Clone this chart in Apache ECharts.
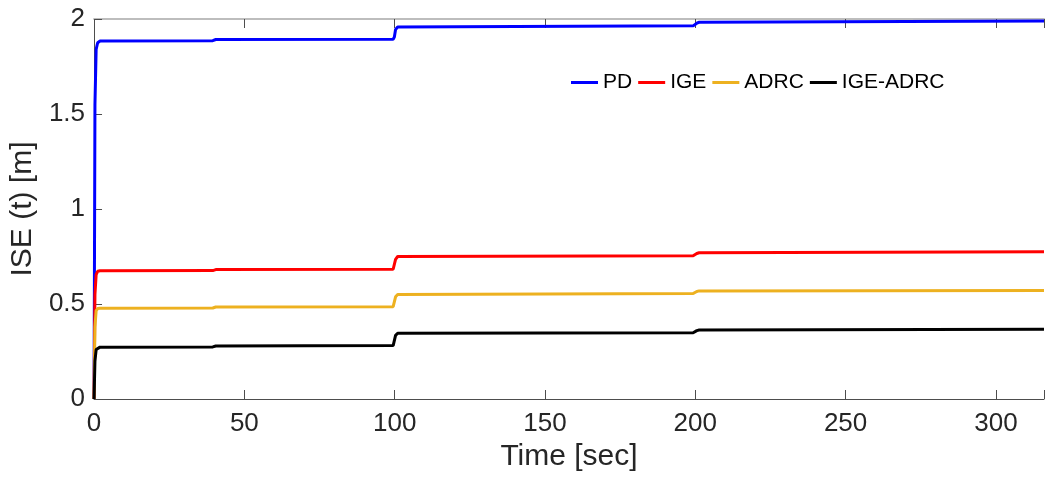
<!DOCTYPE html>
<html>
<head>
<meta charset="utf-8">
<script src="https://cdn.jsdelivr.net/npm/echarts@6/dist/echarts.min.js"></script>
<style>
  html, body { margin: 0; padding: 0; background: #fff; }
  #chart { width: 1047px; height: 480px; }
</style>
</head>
<body>
<div id="chart"></div>
<script>
// Sample times [sec] shared by every curve
const time = [0, 0.3, 0.7, 1.2, 2, 39.5, 40.5, 99.5, 99.9, 100.3, 101.0, 199.3, 199.8, 200.5, 201.3, 316];

// Integral of squared error for each controller [m]
const pd      = [0, 1.55, 1.84, 1.875, 1.884, 1.886, 1.892, 1.894, 1.905, 1.945, 1.958, 1.964, 1.966, 1.978, 1.983, 1.990];
const ige     = [0, 0.55, 0.655, 0.672, 0.675, 0.676, 0.681, 0.683, 0.690, 0.735, 0.750, 0.754, 0.756, 0.766, 0.770, 0.775];
const adrc    = [0, 0.38, 0.465, 0.476, 0.478, 0.479, 0.484, 0.486, 0.495, 0.538, 0.550, 0.555, 0.558, 0.566, 0.569, 0.571];
const igeAdrc = [0, 0.20, 0.260, 0.270, 0.273, 0.274, 0.279, 0.281, 0.290, 0.335, 0.346, 0.349, 0.351, 0.360, 0.363, 0.367];

const seriesNames = ['PD', 'IGE', 'ADRC', 'IGE-ADRC'];
const seriesData = [pd, ige, adrc, igeAdrc];
const colors = ['#0000ff', '#ff0000', '#edb120', '#000000'];

const xTicks = [0, 50, 100, 150, 200, 250, 300];
const yTicks = [0, 0.5, 1, 1.5, 2];

const font = 'Liberation Sans, Arial, Helvetica, sans-serif';
const textColor = '#262626';

const chart = echarts.init(document.getElementById('chart'), null, { renderer: 'canvas' });

chart.setOption({
  animation: false,
  backgroundColor: '#ffffff',
  color: colors,
  grid: { left: 92, top: 19, right: 0, bottom: 81, containLabel: false },
  legend: {
    left: 566,
    top: 67,
    itemWidth: 27,
    itemHeight: 3,
    itemGap: 6,
    icon: 'rect',
    textStyle: { fontFamily: font, fontSize: 21, color: '#000' },
    data: seriesNames
  },
  xAxis: [
    {
      type: 'value',
      position: 'bottom',
      min: 0,
      max: 316,
      interval: 50,
      name: 'Time [sec]',
      nameLocation: 'middle',
      nameGap: 41,
      nameTextStyle: { fontFamily: font, fontSize: 30, color: textColor },
      axisLine: { show: true, onZero: false, lineStyle: { color: '#4d4d4d', width: 1 } },
      axisTick: { show: true, inside: true, length: 9, lineStyle: { color: '#4d4d4d' } },
      axisLabel: {
        fontFamily: font, fontSize: 26, color: textColor, margin: 12,
        formatter: v => (xTicks.includes(v) ? String(v) : '')
      },
      splitLine: { show: false }
    },
    {
      type: 'value',
      position: 'top',
      min: 0,
      max: 316,
      interval: 50,
      axisLine: { show: true, onZero: false, lineStyle: { color: '#bdbdbd', width: 2 } },
      axisTick: { show: true, inside: true, length: 9, lineStyle: { color: '#4d4d4d' } },
      axisLabel: { show: false },
      splitLine: { show: false }
    }
  ],
  yAxis: {
    type: 'value',
    min: 0,
    max: 2,
    interval: 0.5,
    name: 'ISE (t) [m]',
    nameLocation: 'middle',
    nameGap: 33,
    nameTextStyle: { fontFamily: font, fontSize: 30, color: textColor },
    axisLine: { show: true, onZero: false, lineStyle: { color: '#4d4d4d', width: 1 } },
    axisTick: { show: true, inside: true, length: 8, lineStyle: { color: '#4d4d4d' } },
    axisLabel: {
      fontFamily: font, fontSize: 26, color: textColor, margin: 9,
      formatter: v => (yTicks.includes(v) ? String(v) : '')
    },
    splitLine: { show: false }
  },
  series: seriesNames.map((name, i) => ({
    name,
    type: 'line',
    xAxisIndex: 0,
    symbol: 'none',
    smooth: false,
    lineStyle: { width: 3, color: colors[i] },
    itemStyle: { color: colors[i] },
    data: time.map((t, k) => [t, seriesData[i][k]])
  }))
});
</script>
</body>
</html>
